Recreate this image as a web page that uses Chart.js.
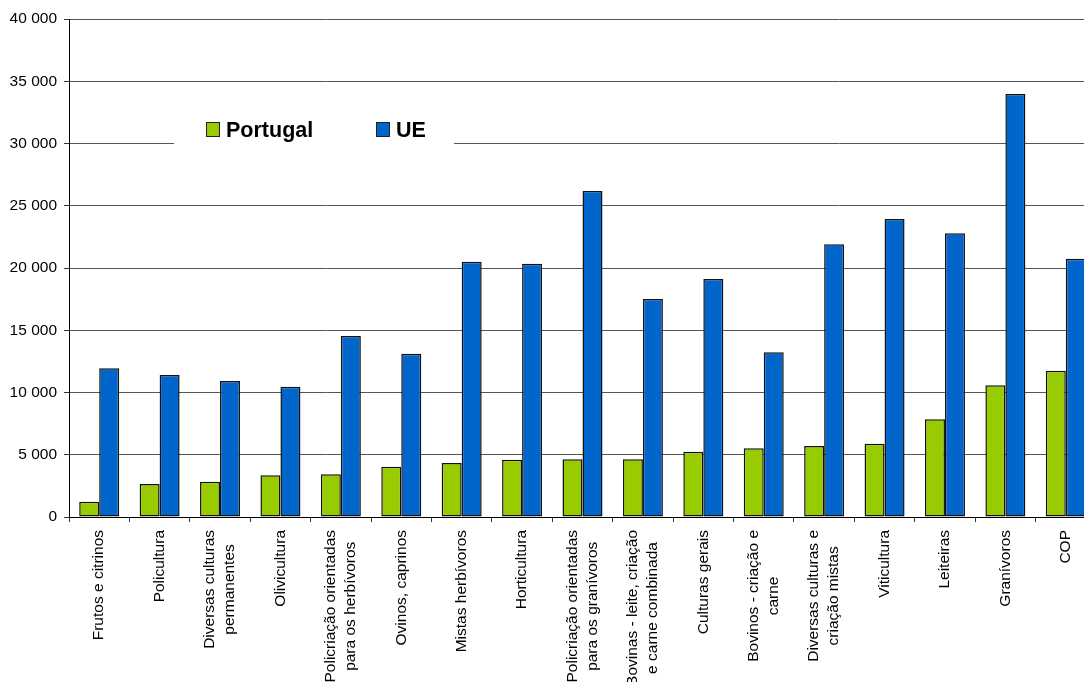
<!DOCTYPE html>
<html>
<head>
<meta charset="utf-8">
<script src="https://cdn.jsdelivr.net/npm/chart.js@4/dist/chart.umd.min.js"></script>
<style>
  html, body { margin: 0; padding: 0; background: #fff; overflow: hidden; }
  #wrap { width: 1100px; height: 682px; }
</style>
</head>
<body>
<div id="wrap"><canvas id="chart" width="1100" height="682"></canvas></div>
<script>
// categories (tipos de exploração)
const categories = [
  "Frutos e citrinos",
  "Policultura",
  ["Diversas culturas", "permanentes"],
  "Olivicultura",
  ["Policriação orientadas", "para os herbívoros"],
  "Ovinos, caprinos",
  "Mistas herbívoros",
  "Horticultura",
  ["Policriação orientadas", "para os granívoros"],
  ["Bovinas - leite, criação", "e carne combinada"],
  "Culturas gerais",
  ["Bovinos - criação e", "carne"],
  ["Diversas culturas e", "criação mistas"],
  "Viticultura",
  "Leiteiras",
  "Granívoros",
  "COP"
];

const portugalValues = [1230, 2650, 2840, 3350, 3430, 4040, 4340, 4600, 4630, 4630, 5250, 5520, 5700, 5890, 7850, 10580, 11740];
const ueValues = [11940, 11400, 10920, 10470, 14540, 13120, 20510, 20350, 26180, 17510, 19120, 13230, 21900, 23940, 22790, 33980, 20750];

const seriesNames = ["Portugal", "UE"];
const yTicks = [0, 5000, 10000, 15000, 20000, 25000, 30000, 35000, 40000];

const FONT = "'Liberation Sans', Arial, sans-serif";

function fmt(v) {
  return String(v).replace(/\B(?=(\d{3})+(?!\d))/g, " ");
}

// x labels: rotated, lines centred on each other, ending near the axis
const xLabelPlugin = {
  id: "xLabels",
  afterDraw(chart) {
    const ctx = chart.ctx;
    const xs = chart.scales.x;
    const top = chart.chartArea.bottom + 13;
    ctx.save();
    ctx.font = "15.5px " + FONT;
    ctx.fillStyle = "#000";
    ctx.textAlign = "center";
    ctx.textBaseline = "middle";
    chart.data.labels.forEach((lab, i) => {
      const lines = Array.isArray(lab) ? lab : [lab];
      const maxW = Math.max(...lines.map(l => ctx.measureText(l).width));
      const x = xs.getPixelForTick(i);
      ctx.save();
      ctx.translate(x, top);
      ctx.rotate(-Math.PI / 2);
      lines.forEach((line, j) => {
        ctx.fillText(line, -maxW / 2, (j - (lines.length - 1) / 2) * 20);
      });
      ctx.restore();
    });
    ctx.restore();
  }
};

// legend sits inside the plot on a white box
const legendPlugin = {
  id: "innerLegend",
  afterDatasetsDraw(chart) {
    const ctx = chart.ctx;
    ctx.save();
    ctx.fillStyle = "#fff";
    ctx.fillRect(174, 112, 280, 40);
    ctx.font = "bold 21.5px " + FONT;
    ctx.textBaseline = "alphabetic";
    const pos = [206, 376];
    chart.data.datasets.forEach((ds, i) => {
      const x = pos[i];
      ctx.fillStyle = ds.backgroundColor;
      ctx.fillRect(x, 122, 13, 14);
      ctx.strokeStyle = "#222";
      ctx.lineWidth = 1;
      ctx.strokeRect(x + 0.5, 122.5, 13, 14);
      ctx.fillStyle = "#000";
      ctx.fillText(ds.label, x + 20, 137);
    });
    ctx.restore();
  }
};

new Chart(document.getElementById("chart"), {
  type: "bar",
  data: {
    labels: categories,
    datasets: [
      {
        label: seriesNames[0],
        data: portugalValues,
        backgroundColor: "#99CC00",
        borderColor: "#111",
        borderWidth: 1.5,
        borderSkipped: false
      },
      {
        label: seriesNames[1],
        data: ueValues,
        backgroundColor: "#0066CC",
        borderColor: "#111",
        borderWidth: 1.5,
        borderSkipped: false
      }
    ]
  },
  plugins: [xLabelPlugin, legendPlugin],
  options: {
    responsive: false,
    animation: false,
    layout: { padding: { top: 19, right: 4, left: 0, bottom: 0 } },
    datasets: {
      bar: { categoryPercentage: 0.662, barPercentage: 1.0 }
    },
    plugins: {
      legend: { display: false },
      tooltip: { enabled: false }
    },
    scales: {
      x: {
        offset: true,
        grid: {
          offset: true,
          drawOnChartArea: false,
          drawTicks: true,
          tickLength: 5,
          tickColor: "#333"
        },
        border: { color: "#000", width: 1 },
        ticks: { display: false },
        afterFit: scale => { scale.height = 165; }
      },
      y: {
        min: 0,
        max: 40000,
        afterBuildTicks: scale => {
          scale.ticks = yTicks.map(v => ({ value: v }));
        },
        grid: {
          color: "#555",
          tickColor: "#333",
          tickLength: 5
        },
        border: { color: "#000", width: 1 },
        ticks: {
          color: "#000",
          padding: 7,
          font: { family: FONT, size: 15.5 },
          callback: v => fmt(v)
        },
        afterFit: scale => { scale.width = 69; }
      }
    }
  }
});
</script>
</body>
</html>
